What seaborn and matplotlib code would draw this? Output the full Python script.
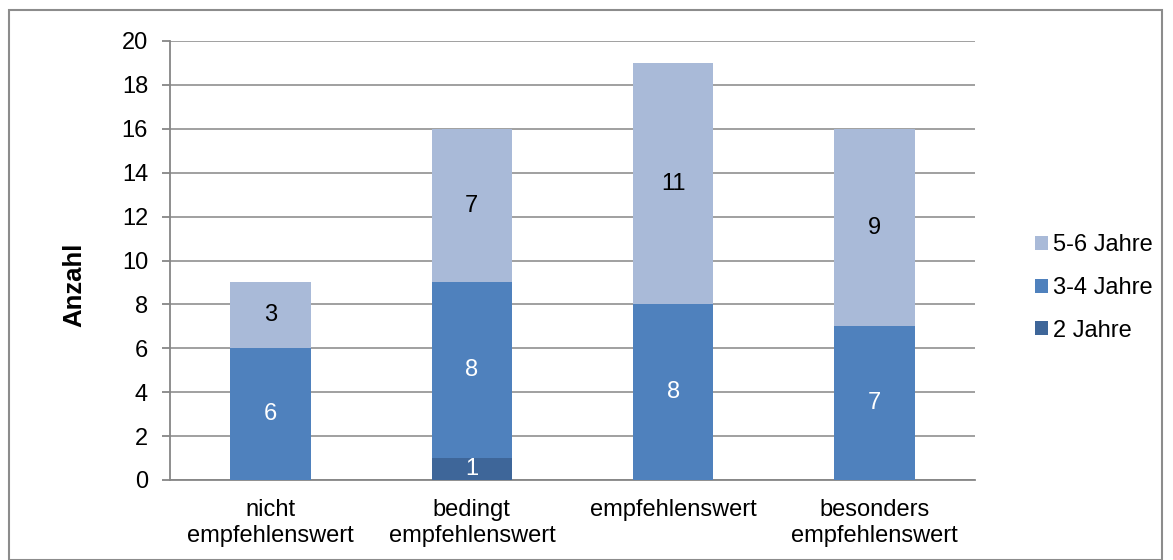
import numpy as np
import pandas as pd
import matplotlib
matplotlib.use("Agg")
import matplotlib.pyplot as plt
from matplotlib.patches import Rectangle
import seaborn as sns

kategorien = ["nicht\nempfehlenswert", "bedingt\nempfehlenswert", "empfehlenswert", "besonders\nempfehlenswert"]
jahre_2 = [0, 1, 0, 0]
jahre_3_4 = [6, 8, 8, 7]
jahre_5_6 = [3, 7, 11, 9]

sns.set_style("white")
plt.rcParams["font.family"] = ["Liberation Sans", "DejaVu Sans"]
plt.rcParams["text.color"] = "black"

fig = plt.figure(figsize=(11.73, 5.6), dpi=100)
ax = fig.add_axes([170 / 1173, 1 - 480 / 560, 805 / 1173, 439 / 560])

# aeusserer Rahmen
fig.patches.append(Rectangle((9 / 1173, 0.0), 1153 / 1173, 1 - 10 / 560, transform=fig.transFigure,
                             fill=False, edgecolor="#8c8c8c", linewidth=1.5))

serien = [("2 Jahre", jahre_2, "#3e6699", "white"),
          ("3-4 Jahre", jahre_3_4, "#4f81bd", "white"),
          ("5-6 Jahre", jahre_5_6, "#a9bad8", "black")]

unten = np.zeros(len(kategorien))
for name, werte, farbe, textfarbe in serien:
    df = pd.DataFrame({"kat": kategorien, "wert": werte})
    sns.barplot(data=df, x="kat", y="wert", color=farbe, width=0.4, bottom=unten,
                label=name, ax=ax, saturation=1, zorder=3, linewidth=0, edgecolor="none")
    cont = ax.containers[-1]
    ax.bar_label(cont, labels=[str(v) if v > 0 else "" for v in werte], label_type="center",
                 color=textfarbe, fontsize=17)
    unten = unten + np.array(werte)

ax.set_ylim(0, 20)
ax.set_yticks(range(0, 21, 2))
ax.set_xlim(-0.5, 3.5)
ax.yaxis.grid(True, color="#868686", linewidth=1.1, zorder=0)
ax.set_axisbelow(True)
for s in ["top", "right"]:
    ax.spines[s].set_visible(False)
for s in ["left", "bottom"]:
    ax.spines[s].set_color("#868686")
    ax.spines[s].set_linewidth(1.3)

ax.set_xticks(np.arange(-0.5, 4, 1), minor=True)
ax.set_xticks(range(4))
ax.set_xticklabels(kategorien, linespacing=1.18)
ax.tick_params(axis="x", which="major", length=0, labelsize=17, pad=14, labelcolor="black")
ax.tick_params(axis="x", which="minor", length=5, width=1.3, color="#868686", direction="out")
ax.tick_params(axis="y", length=5.8, width=1.3, color="#868686", direction="out", labelsize=17,
               pad=10, left=True, labelcolor="black")
ax.set_xlabel("")
ax.set_ylabel("Anzahl", fontsize=18.5, fontweight="bold", color="black")
ax.yaxis.set_label_coords(-0.104, 0.445)

h, l = ax.get_legend_handles_labels()
ax.legend(h[::-1], l[::-1], loc="center left", bbox_to_anchor=(1035 / 1173, 1 - 288 / 560),
          bbox_transform=fig.transFigure, frameon=False, fontsize=17, borderpad=0,
          borderaxespad=0, handlelength=0.55, handleheight=0.55, labelspacing=0.87,
          handletextpad=0.2)

fig.savefig("out.png", dpi=100)
